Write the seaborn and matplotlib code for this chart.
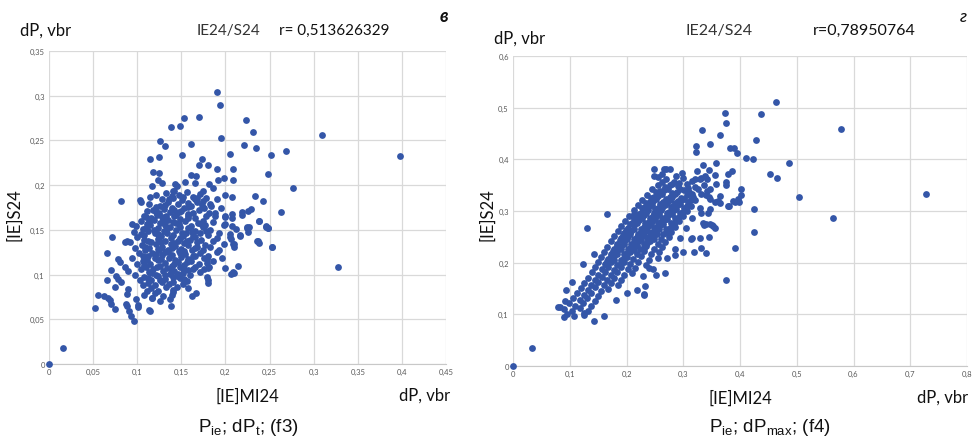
import pandas as pd
import matplotlib.pyplot as plt
import seaborn as sns

# ---- panel (в): [IE]MI24 vs [IE]S24, dP_t ----
left_pts = [
    # sparse / outlying points
    (0.0, 0.0), (0.016, 0.018), (0.052, 0.063), (0.056, 0.0775), (0.0627, 0.0764),
    (0.0665, 0.0741), (0.069, 0.0716), (0.0706, 0.0667), (0.0745, 0.0618), (0.0658, 0.0939),
    (0.0703, 0.105), (0.0745, 0.0857), (0.0658, 0.124), (0.0714, 0.1417), (0.0765, 0.098),
    (0.078, 0.095), (0.0816, 0.0913), (0.0779, 0.1174), (0.0805, 0.1137), (0.0865, 0.136),
    (0.0888, 0.137), (0.0937, 0.156), (0.0861, 0.108), (0.0899, 0.1043), (0.0899, 0.0839),
    (0.0888, 0.0783), (0.087, 0.067), (0.0888, 0.0645), (0.0907, 0.0596), (0.093, 0.054),
    (0.096, 0.0477), (0.099, 0.0727), (0.1012, 0.066), (0.1005, 0.064), (0.1134, 0.0604),
    (0.1145, 0.0589), (0.1168, 0.0734), (0.137, 0.0727), (0.138, 0.0652), (0.139, 0.0775),
    (0.153, 0.094), (0.158, 0.0846), (0.162, 0.0757), (0.167, 0.0794), (0.1534, 0.095),
    (0.1636, 0.106), (0.179, 0.0977), (0.18, 0.094), (0.18, 0.091), (0.1795, 0.117),
    (0.1795, 0.113), (0.18, 0.107), (0.1995, 0.1073), (0.208, 0.1025), (0.2097, 0.1017),
    (0.2146, 0.110), (0.1965, 0.1182), (0.2067, 0.140), (0.209, 0.134), (0.2528, 0.1305),
    (0.2366, 0.1375), (0.238, 0.135), (0.2165, 0.1435), (0.2245, 0.152), (0.2264, 0.153),
    (0.246, 0.1535), (0.248, 0.1517), (0.2377, 0.1596), (0.188, 0.169), (0.1999, 0.1658),
    (0.207, 0.1547), (0.2078, 0.163), (0.2078, 0.168), (0.219, 0.170), (0.219, 0.1666),
    (0.226, 0.171), (0.229, 0.173), (0.2422, 0.182), (0.2626, 0.1696), (0.328, 0.108),
    (0.1906, 0.3045), (0.194, 0.290), (0.1528, 0.2754), (0.1698, 0.2757), (0.1486, 0.2664),
    (0.1388, 0.2649), (0.2235, 0.2731), (0.2311, 0.2597), (0.309, 0.256), (0.398, 0.2328),
    (0.1955, 0.2526), (0.1263, 0.2489), (0.1316, 0.244), (0.1615, 0.2455), (0.2205, 0.2448),
    (0.2345, 0.2414), (0.205, 0.235), (0.1505, 0.234), (0.1248, 0.2317), (0.1142, 0.2295),
    (0.2519, 0.2332), (0.269, 0.238), (0.1736, 0.229), (0.170, 0.2224), (0.180, 0.222),
    (0.190, 0.2175), (0.2084, 0.2183), (0.118, 0.2142), (0.125, 0.2131), (0.161, 0.2108),
    (0.167, 0.210), (0.1986, 0.208), (0.209, 0.2063), (0.1918, 0.206), (0.2477, 0.2123),
    (0.277, 0.1963), (0.123, 0.2056), (0.128, 0.2026), (0.117, 0.1993), (0.143, 0.2015),
    (0.154, 0.2034), (0.165, 0.2026), (0.181, 0.2015), (0.186, 0.197), (0.0817, 0.1828),
    (0.1029, 0.1836), (0.1048, 0.181), (0.1146, 0.1862), (0.121, 0.1888), (0.233, 0.1877),
    (0.2073, 0.1873), (0.199, 0.1888), (0.141, 0.194), (0.145, 0.1985), (0.175, 0.194),
    (0.2, 0.1649), (0.1116, 0.171), (0.1097, 0.1649), (0.198, 0.155), (0.2375, 0.160),
    (0.2058, 0.1007), (0.2092, 0.1343), (0.216, 0.1437), (0.2054, 0.1425), (0.2243, 0.153),
    (0.236, 0.1373), (0.253, 0.1306), (0.2458, 0.154), (0.248, 0.1519),
    # dense core
    (0.133, 0.191), (0.139, 0.188), (0.142, 0.193), (0.147, 0.189), (0.156, 0.192),
    (0.163, 0.187), (0.171, 0.190), (0.178, 0.186),
    (0.128, 0.184), (0.135, 0.181), (0.141, 0.186), (0.151, 0.183), (0.158, 0.180),
    (0.166, 0.184), (0.175, 0.182), (0.183, 0.179), (0.190, 0.184),
    (0.113, 0.179), (0.121, 0.176), (0.131, 0.178), (0.139, 0.175), (0.146, 0.179),
    (0.153, 0.174), (0.161, 0.177), (0.168, 0.181), (0.176, 0.175), (0.184, 0.177),
    (0.118, 0.172), (0.125, 0.169), (0.130, 0.173), (0.137, 0.170), (0.144, 0.167),
    (0.150, 0.171), (0.158, 0.168), (0.170, 0.172), (0.181, 0.169), (0.195, 0.174),
    (0.108, 0.166), (0.116, 0.163), (0.122, 0.167), (0.128, 0.164), (0.135, 0.161),
    (0.142, 0.165), (0.149, 0.162), (0.157, 0.166), (0.166, 0.163), (0.174, 0.160),
    (0.188, 0.165),
    (0.104, 0.160), (0.111, 0.157), (0.119, 0.161), (0.126, 0.158), (0.132, 0.155),
    (0.140, 0.159), (0.147, 0.156), (0.154, 0.160), (0.161, 0.154), (0.169, 0.158),
    (0.177, 0.155), (0.186, 0.159), (0.200, 0.157),
    (0.099, 0.154), (0.107, 0.151), (0.115, 0.155), (0.123, 0.152), (0.130, 0.149),
    (0.137, 0.153), (0.144, 0.150), (0.151, 0.147), (0.158, 0.152), (0.166, 0.149),
    (0.174, 0.153), (0.183, 0.150), (0.193, 0.146), (0.212, 0.151),
    (0.096, 0.148), (0.104, 0.145), (0.112, 0.149), (0.120, 0.146), (0.127, 0.143),
    (0.134, 0.147), (0.141, 0.144), (0.148, 0.141), (0.155, 0.146), (0.163, 0.143),
    (0.171, 0.147), (0.180, 0.144), (0.190, 0.141), (0.205, 0.145), (0.226, 0.148),
    (0.100, 0.142), (0.108, 0.139), (0.116, 0.136), (0.124, 0.140), (0.131, 0.137),
    (0.138, 0.134), (0.146, 0.138), (0.153, 0.135), (0.160, 0.139), (0.168, 0.136),
    (0.177, 0.133), (0.186, 0.137), (0.198, 0.134),
    (0.092, 0.136), (0.105, 0.133), (0.113, 0.130), (0.121, 0.134), (0.128, 0.131),
    (0.135, 0.128), (0.143, 0.132), (0.150, 0.129), (0.157, 0.133), (0.165, 0.130),
    (0.174, 0.127), (0.183, 0.131), (0.193, 0.128), (0.210, 0.131),
    (0.098, 0.130), (0.109, 0.127), (0.117, 0.124), (0.125, 0.128), (0.132, 0.125),
    (0.139, 0.122), (0.147, 0.126), (0.154, 0.123), (0.162, 0.127), (0.171, 0.124),
    (0.180, 0.121), (0.190, 0.125),
    (0.102, 0.124), (0.112, 0.121), (0.120, 0.118), (0.128, 0.122), (0.136, 0.119),
    (0.143, 0.116), (0.150, 0.120), (0.158, 0.117), (0.166, 0.121), (0.176, 0.118),
    (0.186, 0.115),
    (0.094, 0.118), (0.106, 0.115), (0.115, 0.112), (0.123, 0.116), (0.131, 0.113),
    (0.139, 0.110), (0.146, 0.114), (0.153, 0.111), (0.161, 0.115), (0.170, 0.112),
    (0.181, 0.109),
    (0.100, 0.112), (0.110, 0.109), (0.118, 0.106), (0.126, 0.110), (0.134, 0.107),
    (0.142, 0.104), (0.149, 0.108), (0.157, 0.105), (0.165, 0.109), (0.176, 0.106),
    (0.104, 0.106), (0.113, 0.103), (0.121, 0.100), (0.129, 0.104), (0.137, 0.101),
    (0.145, 0.098), (0.152, 0.102), (0.160, 0.099), (0.171, 0.103),
    (0.098, 0.100), (0.108, 0.097), (0.116, 0.094), (0.124, 0.098), (0.132, 0.095),
    (0.140, 0.092), (0.148, 0.096), (0.156, 0.093),
    (0.103, 0.094), (0.112, 0.091), (0.120, 0.088), (0.128, 0.092), (0.136, 0.089),
    (0.145, 0.086), (0.152, 0.090),
    (0.107, 0.088), (0.116, 0.085), (0.124, 0.082), (0.133, 0.086), (0.141, 0.083),
    (0.111, 0.082), (0.120, 0.079), (0.129, 0.076), (0.140, 0.080),
    (0.108, 0.077), (0.117, 0.074), (0.126, 0.071),
    # in-between points of the core
    (0.136, 0.185), (0.152, 0.187), (0.168, 0.186),
    (0.126, 0.177), (0.142, 0.172), (0.157, 0.176), (0.173, 0.178),
    (0.121, 0.170), (0.133, 0.166), (0.147, 0.170), (0.163, 0.169), (0.178, 0.165),
    (0.113, 0.160), (0.129, 0.161), (0.144, 0.158), (0.158, 0.163), (0.172, 0.156),
    (0.110, 0.152), (0.119, 0.150), (0.134, 0.152), (0.148, 0.153), (0.162, 0.148),
    (0.178, 0.149),
    (0.108, 0.144), (0.123, 0.145), (0.138, 0.141), (0.152, 0.143), (0.166, 0.142),
    (0.112, 0.137), (0.127, 0.136), (0.142, 0.135), (0.156, 0.138), (0.172, 0.139),
    (0.109, 0.131), (0.124, 0.129), (0.139, 0.130), (0.153, 0.126), (0.168, 0.131),
    (0.106, 0.121), (0.121, 0.123), (0.135, 0.125), (0.149, 0.124), (0.163, 0.121),
    (0.111, 0.116), (0.127, 0.117), (0.142, 0.112), (0.156, 0.114),
    (0.108, 0.111), (0.122, 0.108), (0.138, 0.106), (0.152, 0.107),
    (0.117, 0.102), (0.132, 0.100), (0.146, 0.101),
    (0.112, 0.096), (0.126, 0.094), (0.140, 0.097),
]

# ---- panel (г): [IE]MI24 vs [IE]S24, dP_max ----
right_pts = [
    # sparse / outlying points
    (0.0, 0.0), (0.0335, 0.0355), (0.463, 0.511), (0.374, 0.490), (0.375, 0.471),
    (0.437, 0.487), (0.578, 0.458), (0.333, 0.456), (0.364, 0.448), (0.429, 0.437),
    (0.323, 0.426), (0.323, 0.415), (0.348, 0.430), (0.383, 0.421), (0.389, 0.421),
    (0.395, 0.413), (0.411, 0.402), (0.423, 0.400), (0.486, 0.392), (0.358, 0.393),
    (0.335, 0.389), (0.453, 0.372), (0.465, 0.364), (0.386, 0.377), (0.378, 0.372),
    (0.375, 0.357), (0.375, 0.350), (0.402, 0.343), (0.402, 0.331), (0.504, 0.328),
    (0.728, 0.333), (0.398, 0.318), (0.391, 0.317), (0.380, 0.310), (0.425, 0.303),
    (0.564, 0.287), (0.165, 0.295), (0.213, 0.295), (0.248, 0.381), (0.248, 0.367),
    (0.266, 0.381), (0.277, 0.382), (0.256, 0.366), (0.288, 0.367), (0.298, 0.374),
    (0.324, 0.377), (0.345, 0.379), (0.338, 0.368), (0.342, 0.361), (0.356, 0.369),
    (0.358, 0.353), (0.347, 0.343), (0.365, 0.330), (0.362, 0.320), (0.348, 0.323),
    (0.340, 0.331), (0.379, 0.310), (0.388, 0.320), (0.397, 0.323), (0.321, 0.361),
    (0.330, 0.361), (0.270, 0.381), (0.263, 0.372), (0.365, 0.315), (0.356, 0.317),
    (0.331, 0.296), (0.344, 0.296), (0.347, 0.304), (0.335, 0.277), (0.340, 0.274),
    (0.348, 0.275), (0.353, 0.271), (0.315, 0.247), (0.330, 0.248), (0.345, 0.249),
    (0.3195, 0.221), (0.331, 0.228), (0.340, 0.219), (0.300, 0.221), (0.2855, 0.215),
    (0.271, 0.210), (0.268, 0.180), (0.252, 0.176), (0.247, 0.188), (0.240, 0.189),
    (0.2296, 0.1736), (0.2326, 0.154), (0.2308, 0.139),
    (0.130, 0.2665), (0.142, 0.217), (0.124, 0.197), (0.392, 0.228), (0.425, 0.259),
    (0.375, 0.1665), (0.230, 0.137), (0.218, 0.147), (0.201, 0.141), (0.182, 0.128),
    (0.161, 0.096), (0.143, 0.088), (0.1245, 0.0994), (0.092, 0.125), (0.093, 0.147),
    (0.1045, 0.163), (0.082, 0.1135), (0.089, 0.094), (0.080, 0.114), (0.314, 0.245),
    (0.336, 0.272), (0.351, 0.272), (0.356, 0.268),
    # dense core
    (0.270, 0.362), (0.284, 0.357), (0.299, 0.364), (0.316, 0.359), (0.331, 0.363),
    (0.255, 0.351), (0.268, 0.347), (0.281, 0.353), (0.291, 0.348), (0.306, 0.352),
    (0.321, 0.346), (0.336, 0.350),
    (0.245, 0.342), (0.259, 0.338), (0.274, 0.343), (0.289, 0.337), (0.301, 0.341),
    (0.311, 0.336), (0.326, 0.342), (0.341, 0.338),
    (0.236, 0.331), (0.249, 0.327), (0.262, 0.333), (0.276, 0.328), (0.286, 0.332),
    (0.296, 0.326), (0.306, 0.331), (0.318, 0.327), (0.331, 0.332), (0.346, 0.328),
    (0.228, 0.322), (0.241, 0.318), (0.252, 0.323), (0.264, 0.317), (0.276, 0.321),
    (0.285, 0.316), (0.296, 0.322), (0.308, 0.317), (0.321, 0.321),
    (0.220, 0.311), (0.233, 0.307), (0.245, 0.312), (0.256, 0.306), (0.267, 0.311),
    (0.279, 0.307), (0.289, 0.312), (0.301, 0.306), (0.313, 0.310), (0.329, 0.306),
    (0.214, 0.301), (0.226, 0.297), (0.238, 0.302), (0.249, 0.296), (0.261, 0.301),
    (0.271, 0.297), (0.283, 0.302), (0.294, 0.296), (0.306, 0.300),
    (0.205, 0.291), (0.218, 0.287), (0.230, 0.292), (0.241, 0.286), (0.252, 0.291),
    (0.263, 0.287), (0.274, 0.292), (0.286, 0.286), (0.300, 0.290), (0.316, 0.287),
    (0.198, 0.281), (0.210, 0.277), (0.222, 0.282), (0.233, 0.276), (0.245, 0.281),
    (0.256, 0.277), (0.266, 0.282), (0.279, 0.276), (0.292, 0.280),
    (0.190, 0.271), (0.202, 0.267), (0.214, 0.272), (0.226, 0.266), (0.238, 0.271),
    (0.248, 0.267), (0.259, 0.272), (0.270, 0.266), (0.285, 0.270), (0.305, 0.267),
    (0.185, 0.261), (0.196, 0.257), (0.208, 0.262), (0.220, 0.256), (0.231, 0.261),
    (0.242, 0.257), (0.252, 0.262), (0.264, 0.256), (0.278, 0.260),
    (0.178, 0.251), (0.190, 0.247), (0.202, 0.252), (0.214, 0.246), (0.226, 0.251),
    (0.236, 0.247), (0.247, 0.252), (0.260, 0.246), (0.275, 0.250), (0.295, 0.247),
    (0.172, 0.241), (0.184, 0.237), (0.196, 0.242), (0.208, 0.236), (0.220, 0.241),
    (0.230, 0.237), (0.242, 0.242), (0.255, 0.236), (0.268, 0.240),
    (0.165, 0.231), (0.178, 0.227), (0.190, 0.232), (0.202, 0.226), (0.213, 0.231),
    (0.224, 0.227), (0.235, 0.232), (0.248, 0.226), (0.262, 0.230), (0.285, 0.227),
    (0.160, 0.221), (0.172, 0.217), (0.184, 0.222), (0.196, 0.216), (0.207, 0.221),
    (0.218, 0.217), (0.230, 0.222), (0.243, 0.216), (0.258, 0.220),
    (0.155, 0.211), (0.167, 0.207), (0.178, 0.212), (0.190, 0.206), (0.200, 0.211),
    (0.212, 0.207), (0.225, 0.212), (0.240, 0.206), (0.255, 0.210),
    (0.150, 0.201), (0.162, 0.197), (0.172, 0.202), (0.184, 0.196), (0.195, 0.201),
    (0.207, 0.197), (0.220, 0.202), (0.235, 0.196),
    (0.145, 0.191), (0.156, 0.187), (0.168, 0.192), (0.178, 0.186), (0.190, 0.191),
    (0.202, 0.187), (0.215, 0.190),
    (0.140, 0.181), (0.150, 0.177), (0.162, 0.182), (0.172, 0.176), (0.183, 0.181),
    (0.195, 0.177), (0.210, 0.180),
    (0.132, 0.171), (0.145, 0.167), (0.156, 0.172), (0.166, 0.166), (0.178, 0.171),
    (0.190, 0.167),
    (0.125, 0.161), (0.138, 0.157), (0.150, 0.162), (0.160, 0.156), (0.172, 0.161),
    (0.185, 0.157),
    (0.120, 0.151), (0.132, 0.147), (0.144, 0.152), (0.155, 0.146), (0.168, 0.150),
    (0.112, 0.141), (0.125, 0.137), (0.138, 0.142), (0.150, 0.136),
    (0.105, 0.131), (0.118, 0.127), (0.130, 0.132), (0.145, 0.126),
    (0.098, 0.121), (0.110, 0.117), (0.124, 0.122), (0.138, 0.116),
    (0.090, 0.111), (0.104, 0.107), (0.118, 0.112), (0.132, 0.106),
    (0.095, 0.101), (0.108, 0.097), (0.125, 0.102),
    # in-between points of the core
    (0.262, 0.356), (0.277, 0.350), (0.293, 0.355), (0.309, 0.345),
    (0.252, 0.336), (0.266, 0.340), (0.281, 0.334), (0.295, 0.343), (0.316, 0.333),
    (0.243, 0.326), (0.256, 0.330), (0.270, 0.324), (0.281, 0.327), (0.291, 0.319),
    (0.302, 0.324), (0.313, 0.321),
    (0.235, 0.315), (0.247, 0.320), (0.259, 0.313), (0.271, 0.316), (0.282, 0.309),
    (0.294, 0.314), (0.306, 0.309),
    (0.227, 0.305), (0.240, 0.309), (0.251, 0.303), (0.263, 0.306), (0.275, 0.299),
    (0.288, 0.304), (0.299, 0.298),
    (0.222, 0.294), (0.235, 0.296), (0.246, 0.290), (0.258, 0.294), (0.269, 0.288),
    (0.280, 0.295), (0.292, 0.289),
    (0.214, 0.284), (0.227, 0.287), (0.239, 0.279), (0.250, 0.284), (0.261, 0.279),
    (0.272, 0.285), (0.285, 0.278),
    (0.206, 0.274), (0.219, 0.276), (0.231, 0.269), (0.243, 0.274), (0.254, 0.269),
    (0.265, 0.275), (0.277, 0.268),
    (0.199, 0.264), (0.213, 0.266), (0.225, 0.259), (0.237, 0.264), (0.247, 0.259),
    (0.258, 0.265), (0.271, 0.258),
    (0.193, 0.254), (0.207, 0.256), (0.219, 0.249), (0.231, 0.254), (0.241, 0.249),
    (0.253, 0.255),
    (0.188, 0.244), (0.201, 0.246), (0.213, 0.239), (0.225, 0.244), (0.236, 0.239),
    (0.249, 0.245),
    (0.183, 0.233), (0.195, 0.236), (0.207, 0.229), (0.219, 0.234), (0.230, 0.229),
    (0.177, 0.223), (0.190, 0.226), (0.201, 0.219), (0.213, 0.224),
    (0.172, 0.213), (0.184, 0.216), (0.195, 0.209),
    (0.166, 0.203), (0.178, 0.206), (0.190, 0.199),
]

left_xticks = [0, 0.05, 0.1, 0.15, 0.2, 0.25, 0.3, 0.35, 0.4, 0.45]
left_xlabels = ["0", "0,05", "0,1", "0,15", "0,2", "0,25", "0,3", "0,35", "0,4", "0,45"]
left_yticks = [0, 0.05, 0.1, 0.15, 0.2, 0.25, 0.3, 0.35]
left_ylabels = ["0", "0,05", "0,1", "0,15", "0,2", "0,25", "0,3", "0,35"]
right_xticks = [0, 0.1, 0.2, 0.3, 0.4, 0.5, 0.6, 0.7, 0.8]
right_xlabels = ["0", "0,1", "0,2", "0,3", "0,4", "0,5", "0,6", "0,7", "0,8"]
right_yticks = [0, 0.1, 0.2, 0.3, 0.4, 0.5, 0.6]
right_ylabels = ["0", "0,1", "0,2", "0,3", "0,4", "0,5", "0,6"]

left_df = pd.DataFrame(left_pts, columns=["MI24", "S24"])
right_df = pd.DataFrame(right_pts, columns=["MI24", "S24"])

sns.set_style("whitegrid", {"grid.color": "#d9d9d9"})
plt.rcParams['font.family'] = ['Lato', 'DejaVu Sans']

W, H = 974, 439
fig = plt.figure(figsize=(W / 100, H / 100), dpi=100)
ax1 = fig.add_axes([49 / W, 1 - 365 / H, 397 / W, 313 / H])
ax2 = fig.add_axes([513 / W, 1 - 367 / H, 454 / W, 310 / H])

dot = "#3456a8"
for ax, df, xt, xl, yt, yl in [
    (ax1, left_df, left_xticks, left_xlabels, left_yticks, left_ylabels),
    (ax2, right_df, right_xticks, right_xlabels, right_yticks, right_ylabels),
]:
    sns.scatterplot(data=df, x="MI24", y="S24", ax=ax, color=dot, s=24,
                    linewidth=0, clip_on=False, zorder=3)
    ax.set_xlim(xt[0], xt[-1])
    ax.set_ylim(yt[0], yt[-1])
    ax.set_xticks(xt, xl)
    ax.set_yticks(yt, yl)
    ax.tick_params(length=0, labelsize=5.5, labelcolor="#595959", pad=3)
    ax.set_xlabel("")
    ax.set_ylabel("")
    ax.grid(True, color="#d9d9d9", linewidth=0.9)
    for sp in ax.spines.values():
        sp.set_visible(False)
    ax.spines["bottom"].set_visible(True)
    ax.spines["bottom"].set_color("#c8c8c8")


def ft(x, y, s, **kw):
    kw.setdefault("color", "#111111")
    fig.text(x / W, 1 - y / H, s, **kw)


# left panel texts
ft(20, 31, "dP, vbr", fontsize=12, ha="left", va="center")
ft(228, 31, "IE24/S24", fontsize=11, ha="center", va="center", color="#333333")
ft(279, 31, "r= 0,513626329", fontsize=11, ha="left", va="center")
ft(444, 17, "в", fontsize=13, ha="center", va="center", style="italic", weight="bold")
ft(14, 215, "[IE]S24", fontsize=12, ha="center", va="center", rotation=90)
ft(247, 397, "[IE]MI24", fontsize=12, ha="center", va="center")
ft(425, 396, "dP, vbr", fontsize=12, ha="center", va="center")
ft(248, 428, r"P$_{\mathregular{ie}}$; dP$_{\mathregular{t}}$; (f3)", fontsize=13.5,
   ha="center", va="center", family=["Liberation Sans Narrow", "Liberation Sans"])

# right panel texts
ft(494, 39, "dP, vbr", fontsize=12, ha="left", va="center")
ft(719, 31, "IE24/S24", fontsize=11.5, ha="center", va="center", color="#333333")
ft(813, 31, "r=0,78950764", fontsize=11.5, ha="left", va="center")
ft(963, 17, "г", fontsize=13, ha="center", va="center", style="italic")
ft(487, 215, "[IE]S24", fontsize=12, ha="center", va="center", rotation=90)
ft(740, 399, "[IE]MI24", fontsize=12, ha="center", va="center")
ft(943, 398, "dP, vbr", fontsize=12, ha="center", va="center")
ft(770, 428, r"P$_{\mathregular{ie}}$; dP$_{\mathregular{max}}$; (f4)", fontsize=13.5,
   ha="center", va="center", family=["Liberation Sans Narrow", "Liberation Sans"])

fig.savefig("out.png", dpi=100)
